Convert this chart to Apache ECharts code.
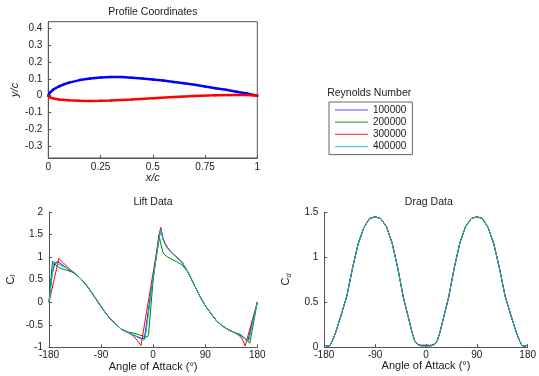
<!DOCTYPE html>
<html>
<head>
<meta charset="utf-8">
<script src="https://cdn.jsdelivr.net/npm/echarts@6/dist/echarts.min.js"></script>
<style>
html,body{margin:0;padding:0;background:#fff;}
#c{width:539px;height:376px;}
</style>
</head>
<body>
<div id="c"></div>
<script>
// ---------- Profile coordinates ----------
const upperX = [0, 0.005, 0.01, 0.025, 0.05, 0.075, 0.1, 0.15, 0.2, 0.25, 0.3, 0.35, 0.4, 0.45, 0.5, 0.55, 0.6, 0.65, 0.7, 0.75, 0.8, 0.85, 0.9, 0.95, 1.0];
const upperY = [0, 0.015, 0.022, 0.038, 0.055, 0.068, 0.078, 0.093, 0.103, 0.109, 0.111, 0.111, 0.107, 0.102, 0.097, 0.090, 0.082, 0.074, 0.065, 0.055, 0.045, 0.035, 0.024, 0.013, 0];
const lowerX = [0, 0.01, 0.025, 0.05, 0.1, 0.15, 0.2, 0.25, 0.3, 0.4, 0.5, 0.6, 0.7, 0.8, 0.9, 0.95, 1.0];
const lowerY = [0, -0.010, -0.017, -0.022, -0.027, -0.030, -0.031, -0.030, -0.028, -0.022, -0.015, -0.008, -0.002, 0.003, 0.005, 0.004, 0];
const profileYTicks = [-0.3, -0.2, -0.1, 0, 0.1, 0.2, 0.3, 0.4];

// ---------- Legend ----------
const reynolds = ['100000', '200000', '300000', '400000'];
const reColors = ['#0000ff', '#008000', '#ff0000', '#00bfbf'];

// ---------- Lift data (shared middle parts) ----------
const midNegAlpha = [-125, -115, -105, -95, -85, -75, -65, -55, -45];
const midNegCl = [0.52, 0.37, 0.19, 0.0, -0.19, -0.36, -0.48, -0.60, -0.66];
const midPosAlpha = [60, 70, 80, 90, 100, 110, 120, 130, 140];
const midPosCl = [0.67, 0.41, 0.15, -0.08, -0.25, -0.42, -0.53, -0.61, -0.67];

// 100000
const lift1LeadA = [-180, -175, -170, -165, -160, -150, -140, -135];
const lift1LeadC = [0, 0.60, 0.86, 0.90, 0.86, 0.76, 0.67, 0.64];
const lift1MidA = [-35, -25, -20, -15, 0, 13, 17, 20, 25, 30, 40, 50];
const lift1MidC = [-0.72, -0.78, -0.80, -0.80, 0.55, 1.64, 1.40, 1.31, 1.20, 1.12, 1.00, 0.88];
const lift1TailA = [150, 155, 160, 164, 180];
const lift1TailC = [-0.73, -0.77, -0.82, -0.85, 0];
// 200000
const lift2LeadA = [-180, -174, -170, -165, -160, -150, -140, -135];
const lift2LeadC = [0, 0.91, 0.85, 0.79, 0.75, 0.71, 0.67, 0.63];
const lift2MidA = [-35, -25, -15, -10, -8, 0, 10, 13, 17, 20, 25, 30, 40, 50];
const lift2MidC = [-0.68, -0.72, -0.76, -0.77, -0.72, 0.50, 1.50, 1.30, 1.10, 1.05, 1.00, 0.97, 0.90, 0.83];
const lift2TailA = [150, 155, 160, 167, 180];
const lift2TailC = [-0.71, -0.76, -0.82, -0.91, 0];
// 300000
const lift3LeadA = [-180, -163, -155, -145, -135];
const lift3LeadC = [0, 0.97, 0.87, 0.74, 0.64];
const lift3MidA = [-35, -28, -21, 13, 17, 20, 25, 30, 40, 50];
const lift3MidC = [-0.74, -0.84, -0.96, 1.66, 1.42, 1.32, 1.21, 1.13, 1.01, 0.89];
const lift3TailA = [150, 155, 159, 180];
const lift3TailC = [-0.75, -0.84, -0.97, 0];
// 400000
const lift4LeadA = [-180, -172, -168, -160, -150, -140, -135];
const lift4LeadC = [0, 0.88, 0.87, 0.82, 0.76, 0.68, 0.64];
const lift4MidA = [-35, -25, -18, -14, 0, 13, 17, 20, 25, 30, 40, 50];
const lift4MidC = [-0.72, -0.79, -0.84, -0.82, 0.55, 1.62, 1.40, 1.30, 1.19, 1.12, 1.00, 0.88];
const lift4TailA = [150, 155, 160, 165, 168, 180];
const lift4TailC = [-0.73, -0.78, -0.82, -0.86, -0.88, 0];

// ---------- Drag data ----------
const dragAlpha = [-180, -175, -170, -165, -160, -150, -140, -130, -120, -110, -100, -90, -80, -70, -60, -50, -40, -30, -25, -20, -15, -10, -5, 0, 5, 10, 15, 20, 25, 30, 40, 50, 60, 70, 80, 90, 100, 110, 120, 130, 140, 150, 160, 165, 170, 175, 180];
const drag1 = [0.02, 0.01, 0.015, 0.08, 0.16, 0.36, 0.57, 0.88, 1.15, 1.33, 1.43, 1.45, 1.43, 1.34, 1.16, 0.88, 0.55, 0.30, 0.17, 0.07, 0.03, 0.02, 0.02, 0.02, 0.02, 0.02, 0.03, 0.07, 0.17, 0.30, 0.55, 0.88, 1.16, 1.34, 1.43, 1.45, 1.43, 1.33, 1.15, 0.88, 0.57, 0.36, 0.16, 0.08, 0.015, 0.01, 0.02];
const drag2 = [0.02, 0.012, 0.018, 0.08, 0.16, 0.36, 0.57, 0.88, 1.15, 1.33, 1.43, 1.45, 1.43, 1.34, 1.16, 0.88, 0.55, 0.30, 0.17, 0.07, 0.03, 0.018, 0.015, 0.015, 0.015, 0.018, 0.03, 0.07, 0.17, 0.30, 0.55, 0.88, 1.16, 1.34, 1.43, 1.45, 1.43, 1.33, 1.15, 0.88, 0.57, 0.36, 0.16, 0.08, 0.018, 0.012, 0.02];
const drag3 = [0.02, 0.01, 0.015, 0.08, 0.16, 0.36, 0.57, 0.88, 1.15, 1.33, 1.43, 1.45, 1.43, 1.34, 1.16, 0.88, 0.55, 0.30, 0.17, 0.07, 0.03, 0.015, 0.012, 0.012, 0.012, 0.015, 0.03, 0.07, 0.17, 0.30, 0.55, 0.88, 1.16, 1.34, 1.43, 1.45, 1.43, 1.33, 1.15, 0.88, 0.57, 0.36, 0.16, 0.08, 0.015, 0.01, 0.02];
const drag4 = [0.02, 0.01, 0.015, 0.08, 0.16, 0.36, 0.57, 0.88, 1.15, 1.33, 1.43, 1.45, 1.43, 1.34, 1.16, 0.88, 0.55, 0.30, 0.17, 0.07, 0.03, 0.012, 0.01, 0.01, 0.01, 0.012, 0.03, 0.07, 0.17, 0.30, 0.55, 0.88, 1.16, 1.34, 1.43, 1.45, 1.43, 1.33, 1.15, 0.88, 0.57, 0.36, 0.16, 0.08, 0.015, 0.01, 0.02];

// ---------- build ----------
function pairs(xs, ys) { return xs.map((x, i) => [x, ys[i]]); }
function liftPairs(leadA, leadC, midA, midC, tailA, tailC) {
  return pairs([].concat(leadA, midNegAlpha, midA, midPosAlpha, tailA),
               [].concat(leadC, midNegCl, midC, midPosCl, tailC));
}
const liftSets = [
  liftPairs(lift1LeadA, lift1LeadC, lift1MidA, lift1MidC, lift1TailA, lift1TailC),
  liftPairs(lift2LeadA, lift2LeadC, lift2MidA, lift2MidC, lift2TailA, lift2TailC),
  liftPairs(lift3LeadA, lift3LeadC, lift3MidA, lift3MidC, lift3TailA, lift3TailC),
  liftPairs(lift4LeadA, lift4LeadC, lift4MidA, lift4MidC, lift4TailA, lift4TailC)
];
const dragSets = [drag1, drag2, drag3, drag4].map(d => pairs(dragAlpha, d));

const FONT = 'Liberation Sans, Arial, sans-serif';
const TXT = '#1a1a1a';
const AX = '#555';
const axisLineStyle = { show: true, onZero: false, lineStyle: { color: AX, width: 1 } };
const tickStyle = { show: true, inside: true, length: 3, lineStyle: { color: AX } };
const labelStyle = { color: TXT, fontSize: 10, fontFamily: FONT, margin: 4 };

const series = [];
series.push({ type: 'line', xAxisIndex: 0, yAxisIndex: 0, data: pairs(upperX, upperY), symbol: 'circle', symbolSize: 2.5, showSymbol: true, itemStyle: { color: '#0000ff' }, lineStyle: { color: '#0000ff', width: 2.5 }, silent: true });
series.push({ type: 'line', xAxisIndex: 0, yAxisIndex: 0, data: pairs(lowerX, lowerY), symbol: 'circle', symbolSize: 2.5, showSymbol: true, itemStyle: { color: '#ff0000' }, lineStyle: { color: '#ff0000', width: 2.5 }, silent: true });
for (let i = 0; i < 4; i++) {
  series.push({ name: reynolds[i], type: 'line', xAxisIndex: 1, yAxisIndex: 1, data: liftSets[i], symbol: 'none', itemStyle: { color: reColors[i] }, lineStyle: { color: reColors[i], width: 1 } });
}
for (let i = 0; i < 4; i++) {
  series.push({ name: reynolds[i], type: 'line', xAxisIndex: 2, yAxisIndex: 2, data: dragSets[i], symbol: 'none', itemStyle: { color: reColors[i] }, lineStyle: { color: reColors[i], width: 1 } });
}

const option = {
  animation: false,
  backgroundColor: '#fff',
  grid: [
    { left: 48.3, top: 21.7, width: 209, height: 136.3, show: true, borderColor: AX, borderWidth: 1, backgroundColor: 'transparent' },
    { left: 49, top: 212, width: 208.3, height: 135.3 },
    { left: 324.3, top: 212.3, width: 209, height: 134.7 }
  ],
  xAxis: [
    { type: 'value', gridIndex: 0, min: 0, max: 1, interval: 0.25, axisLine: axisLineStyle, axisTick: tickStyle, axisLabel: labelStyle, splitLine: { show: false },
      name: 'x/c', nameLocation: 'middle', nameGap: 14, nameTextStyle: { color: TXT, fontSize: 11, fontStyle: 'italic', fontFamily: FONT } },
    { type: 'value', gridIndex: 1, min: -180, max: 180, interval: 90, axisLine: axisLineStyle, axisTick: tickStyle, axisLabel: Object.assign({}, labelStyle, { margin: 3 }), splitLine: { show: false },
      name: 'Angle of Attack (°)', nameLocation: 'middle', nameGap: 11, nameTextStyle: { color: TXT, fontSize: 11, fontFamily: FONT } },
    { type: 'value', gridIndex: 2, min: -180, max: 180, interval: 90, axisLine: axisLineStyle, axisTick: tickStyle, axisLabel: Object.assign({}, labelStyle, { margin: 3 }), splitLine: { show: false },
      name: 'Angle of Attack (°)', nameLocation: 'middle', nameGap: 11, nameTextStyle: { color: TXT, fontSize: 11, fontFamily: FONT } }
  ],
  yAxis: [
    { type: 'value', gridIndex: 0, min: -0.37, max: 0.44, axisLine: axisLineStyle,
      axisTick: Object.assign({}, tickStyle, { customValues: profileYTicks }),
      axisLabel: Object.assign({}, labelStyle, { customValues: profileYTicks, margin: 6 }), splitLine: { show: false },
      name: 'y/c', nameLocation: 'middle', nameGap: 28, nameTextStyle: { color: TXT, fontSize: 11, fontStyle: 'italic', fontFamily: FONT } },
    { type: 'value', gridIndex: 1, min: -1, max: 2, interval: 0.5, axisLine: axisLineStyle, axisTick: tickStyle, axisLabel: Object.assign({}, labelStyle, { margin: 6 }), splitLine: { show: false },
      name: '{a|C}{b|l}', nameLocation: 'middle', nameGap: 32,
      nameTextStyle: { color: TXT, fontFamily: FONT, rich: { a: { fontSize: 11, color: TXT, fontFamily: FONT }, b: { fontSize: 7, color: TXT, fontStyle: 'italic', fontFamily: FONT, padding: [5, 0, 0, 0] } } } },
    { type: 'value', gridIndex: 2, min: 0, max: 1.5, interval: 0.5, axisLine: axisLineStyle, axisTick: tickStyle, axisLabel: Object.assign({}, labelStyle, { margin: 6 }), splitLine: { show: false },
      name: '{a|C}{b|d}', nameLocation: 'middle', nameGap: 32,
      nameTextStyle: { color: TXT, fontFamily: FONT, rich: { a: { fontSize: 11, color: TXT, fontFamily: FONT }, b: { fontSize: 7, color: TXT, fontStyle: 'italic', fontFamily: FONT, padding: [5, 0, 0, 0] } } } }
  ],
  legend: {
    data: reynolds,
    orient: 'vertical',
    left: 329, top: 102,
    padding: [3, 6, 3, 6],
    icon: 'rect',
    itemWidth: 33, itemHeight: 1.2, itemGap: 2.2,
    itemStyle: { opacity: 0.7 },
    borderColor: '#666', borderWidth: 1,
    backgroundColor: '#fff',
    selectedMode: false,
    textStyle: { color: TXT, fontSize: 10, lineHeight: 10, fontFamily: FONT, padding: [0, 0, 0, 0] }
  },
  graphic: [
    { type: 'text', x: 152.8, y: 12, style: { text: 'Profile Coordinates', fill: TXT, font: '10.5px ' + FONT, textAlign: 'center', textVerticalAlign: 'middle' } },
    { type: 'text', x: 153, y: 202, style: { text: 'Lift Data', fill: TXT, font: '10.5px ' + FONT, textAlign: 'center', textVerticalAlign: 'middle' } },
    { type: 'text', x: 428.8, y: 202, style: { text: 'Drag Data', fill: TXT, font: '10.5px ' + FONT, textAlign: 'center', textVerticalAlign: 'middle' } },
    { type: 'text', x: 369.2, y: 93.3, style: { text: 'Reynolds Number', fill: TXT, font: '10.5px ' + FONT, textAlign: 'center', textVerticalAlign: 'middle' } }
  ],
  series: series
};
const chart = echarts.init(document.getElementById('c'), null, { renderer: 'canvas' });
chart.setOption(option);
</script>
</body>
</html>
